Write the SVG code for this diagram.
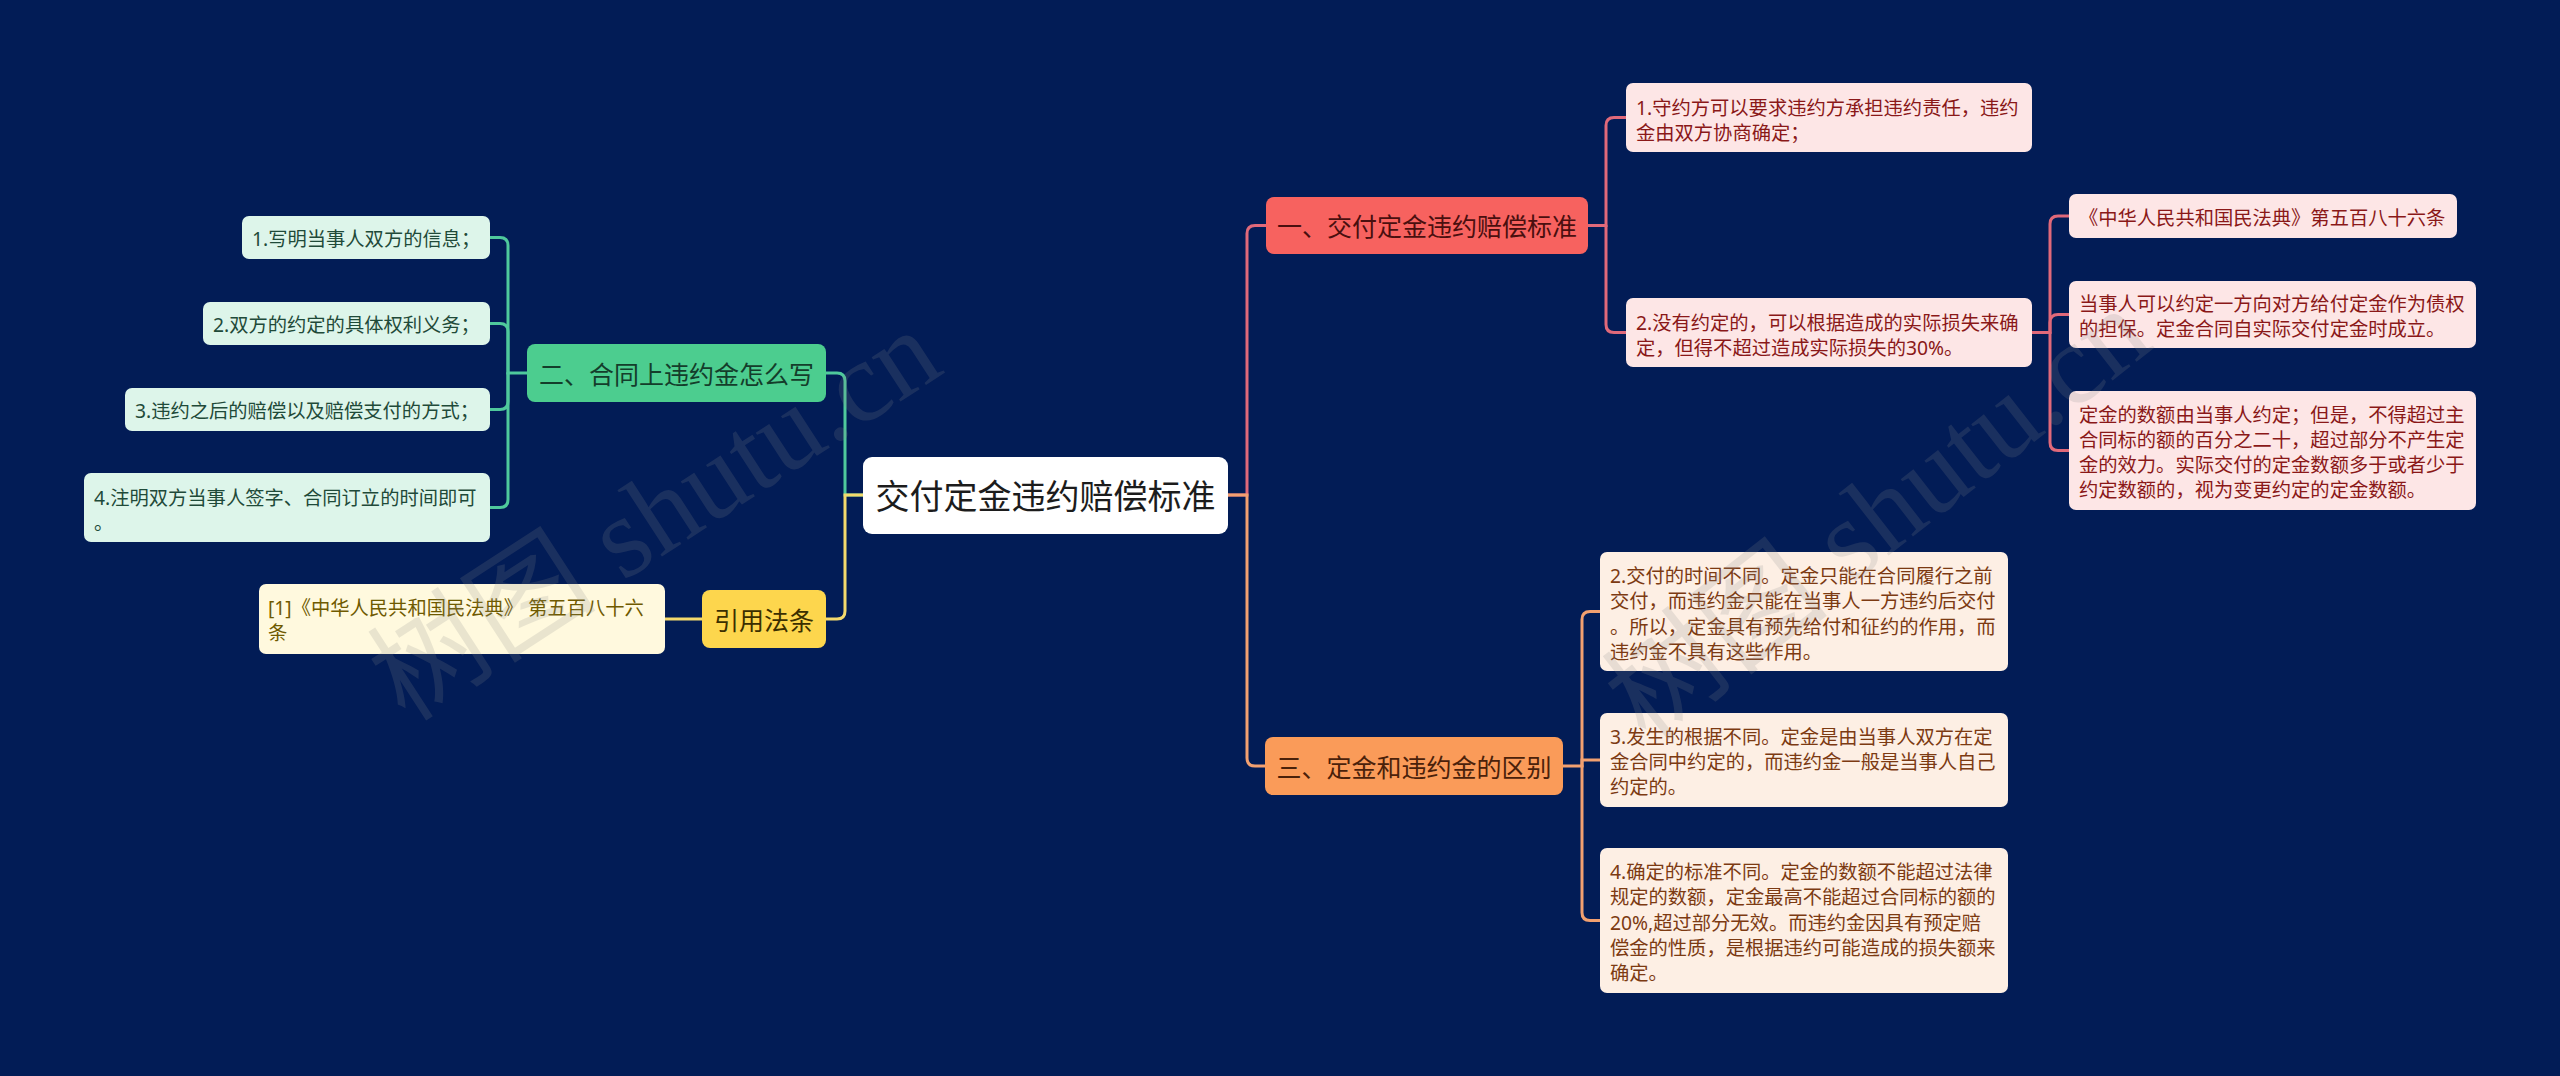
<svg xmlns="http://www.w3.org/2000/svg" width="2560" height="1076" viewBox="0 0 2560 1076">
<style>
text{font-family:"Noto Sans","Noto Sans CJK SC",sans-serif;dominant-baseline:central}
.lf{font-size:19.3px}
.mn{font-size:25px;text-anchor:middle}
.c{fill:none;stroke-width:3;stroke-linecap:round}
.cr{stroke:#e0697a}.cg{stroke:#4fc99c}.co{stroke:#f2a070}.cy{stroke:#f4d96c}
.r-main{fill:#f7625f}.r-leaf{fill:#fde6e6}.r-t{fill:#8a1818}
.g-main{fill:#4ccd8f}.g-leaf{fill:#ddf5ea}.g-t{fill:#1f4a39}
.o-main{fill:#fa9b59}.o-leaf{fill:#fdefe4}.o-t{fill:#7c3a12}
.y-main{fill:#fdd64d}.y-leaf{fill:#fff9de}.y-t{fill:#6f5a00}
.wm{font-family:"Liberation Serif","Noto Sans CJK SC",serif;font-size:115px;fill:#8a8a8a;opacity:0.18;text-anchor:middle}
</style>
<rect width="2560" height="1076" fill="#021c56"/>

<g id="connectors">
  <path class="c cg" d="M863,495 H845 V381 Q845,373 837,373 H826"/>
  <path class="c cg" d="M527,373 H508 V245.5 Q508,237.5 500,237.5 H490"/>
  <path class="c cg" d="M508,373 V331.5 Q508,323.5 500,323.5 H490"/>
  <path class="c cg" d="M508,373 V401.5 Q508,409.5 500,409.5 H490"/>
  <path class="c cg" d="M508,373 V499.5 Q508,507.5 500,507.5 H490"/>
  <path class="c cy" d="M863,495 H845 V611 Q845,619 837,619 H826"/>
  <path class="c cy" d="M702,619 H665"/>
  <path class="c cr" d="M1228,495 H1247 V233.5 Q1247,225.5 1255,225.5 H1266"/>
  <path class="c cr" d="M1588,225.5 H1606 V125.5 Q1606,117.5 1614,117.5 H1626"/>
  <path class="c cr" d="M1606,225.5 V324.5 Q1606,332.5 1614,332.5 H1626"/>
  <path class="c cr" d="M2032,332.5 H2050 V224 Q2050,216 2058,216 H2069"/>
  <path class="c cr" d="M2050,332.5 V322.5 Q2050,314.5 2058,314.5 H2069"/>
  <path class="c cr" d="M2050,332.5 V442.5 Q2050,450.5 2058,450.5 H2069"/>
  <path class="c co" d="M1228,495 H1247 V758 Q1247,766 1255,766 H1265"/>
  <path class="c co" d="M1563,766 H1582 V619.5 Q1582,611.5 1590,611.5 H1600"/>
  <path class="c co" d="M1582,766 V760 H1600"/>
  <path class="c co" d="M1582,766 V912.5 Q1582,920.5 1590,920.5 H1600"/>
</g>

<g id="root">
  <rect x="863" y="457" width="365" height="77" rx="9" fill="#ffffff"/>
  <text x="1045.5" y="496" font-size="34" text-anchor="middle" fill="#1c1c1c">交付定金违约赔偿标准</text>
</g>

<g id="n1">
  <rect class="r-main" x="1266" y="197" width="322" height="57" rx="8"/>
  <text class="mn" x="1427" y="226" fill="#4a0f0f">一、交付定金违约赔偿标准</text>
</g>
<g id="n1-1">
  <rect class="r-leaf" x="1626" y="83" width="406" height="69" rx="7"/>
  <text class="lf r-t" x="1636" y="107">1.守约方可以要求违约方承担违约责任，违约</text>
  <text class="lf r-t" x="1636" y="132">金由双方协商确定；</text>
</g>
<g id="n1-2">
  <rect class="r-leaf" x="1626" y="298" width="406" height="69" rx="7"/>
  <text class="lf r-t" x="1636" y="322">2.没有约定的，可以根据造成的实际损失来确</text>
  <text class="lf r-t" x="1636" y="347">定，但得不超过造成实际损失的30%。</text>
</g>
<g id="n1-2-1">
  <rect class="r-leaf" x="2069" y="194" width="388" height="44" rx="7"/>
  <text class="lf r-t" x="2079" y="217">《中华人民共和国民法典》第五百八十六条</text>
</g>
<g id="n1-2-2">
  <rect class="r-leaf" x="2069" y="281" width="407" height="67" rx="7"/>
  <text class="lf r-t" x="2079" y="303.5">当事人可以约定一方向对方给付定金作为债权</text>
  <text class="lf r-t" x="2079" y="328.8">的担保。定金合同自实际交付定金时成立。</text>
</g>
<g id="n1-2-3">
  <rect class="r-leaf" x="2069" y="391" width="407" height="119" rx="7"/>
  <text class="lf r-t" x="2079" y="414">定金的数额由当事人约定；但是，不得超过主</text>
  <text class="lf r-t" x="2079" y="439.3">合同标的额的百分之二十，超过部分不产生定</text>
  <text class="lf r-t" x="2079" y="464.6">金的效力。实际交付的定金数额多于或者少于</text>
  <text class="lf r-t" x="2079" y="489.9">约定数额的，视为变更约定的定金数额。</text>
</g>

<g id="n2">
  <rect class="g-main" x="527" y="344" width="299" height="58" rx="8"/>
  <text class="mn" x="676.5" y="373.5" fill="#143d2b">二、合同上违约金怎么写</text>
</g>
<g id="n2-1">
  <rect class="g-leaf" x="242" y="216" width="248" height="43" rx="7"/>
  <text class="lf g-t" x="252" y="238">1.写明当事人双方的信息；</text>
</g>
<g id="n2-2">
  <rect class="g-leaf" x="203" y="302" width="287" height="43" rx="7"/>
  <text class="lf g-t" x="213" y="324">2.双方的约定的具体权利义务；</text>
</g>
<g id="n2-3">
  <rect class="g-leaf" x="125" y="388" width="365" height="43" rx="7"/>
  <text class="lf g-t" x="135" y="410">3.违约之后的赔偿以及赔偿支付的方式；</text>
</g>
<g id="n2-4">
  <rect class="g-leaf" x="84" y="473" width="406" height="69" rx="7"/>
  <text class="lf g-t" x="94" y="497">4.注明双方当事人签字、合同订立的时间即可</text>
  <text class="lf g-t" x="94" y="522">。</text>
</g>

<g id="n3">
  <rect class="o-main" x="1265" y="737" width="298" height="58" rx="8"/>
  <text class="mn" x="1414" y="766.5" fill="#4a210a">三、定金和违约金的区别</text>
</g>
<g id="n3-1">
  <rect class="o-leaf" x="1600" y="552" width="408" height="119" rx="7"/>
  <text class="lf o-t" x="1610" y="575.5">2.交付的时间不同。定金只能在合同履行之前</text>
  <text class="lf o-t" x="1610" y="600.8">交付，而违约金只能在当事人一方违约后交付</text>
  <text class="lf o-t" x="1610" y="626.1">。所以，定金具有预先给付和征约的作用，而</text>
  <text class="lf o-t" x="1610" y="651.4">违约金不具有这些作用。</text>
</g>
<g id="n3-2">
  <rect class="o-leaf" x="1600" y="713" width="408" height="94" rx="7"/>
  <text class="lf o-t" x="1610" y="736">3.发生的根据不同。定金是由当事人双方在定</text>
  <text class="lf o-t" x="1610" y="761.3">金合同中约定的，而违约金一般是当事人自己</text>
  <text class="lf o-t" x="1610" y="786.6">约定的。</text>
</g>
<g id="n3-3">
  <rect class="o-leaf" x="1600" y="848" width="408" height="145" rx="7"/>
  <text class="lf o-t" x="1610" y="871.5">4.确定的标准不同。定金的数额不能超过法律</text>
  <text class="lf o-t" x="1610" y="896.8">规定的数额，定金最高不能超过合同标的额的</text>
  <text class="lf o-t" x="1610" y="922.1">20%,超过部分无效。而违约金因具有预定赔</text>
  <text class="lf o-t" x="1610" y="947.4">偿金的性质，是根据违约可能造成的损失额来</text>
  <text class="lf o-t" x="1610" y="972.7">确定。</text>
</g>

<g id="n4">
  <rect class="y-main" x="702" y="590" width="124" height="58" rx="8"/>
  <text class="mn" x="764" y="619.5" fill="#3b2f00">引用法条</text>
</g>
<g id="n4-1">
  <rect class="y-leaf" x="259" y="584" width="406" height="70" rx="7"/>
  <text class="lf y-t" x="268" y="607.5">[1]《中华人民共和国民法典》 第五百八十六</text>
  <text class="lf y-t" x="268" y="632.8">条</text>
</g>

<g id="watermarks">
  <text class="wm" transform="translate(655,515) rotate(-33)">树图 shutu.cn</text>
  <text class="wm" transform="translate(1878,515) rotate(-38)">树图 shutu.cn</text>
</g>
</svg>
